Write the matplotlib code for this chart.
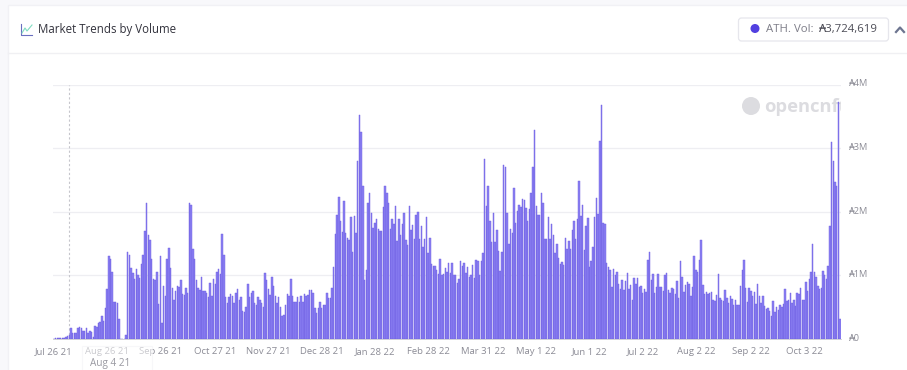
#market volume bar chart with the opencnft card around it
import matplotlib
matplotlib.use("Agg")
import matplotlib.pyplot as plt
from matplotlib.patches import Circle, FancyBboxPatch, Rectangle
from matplotlib.transforms import ScaledTranslation

plt.rcParams["font.family"] = ["Open Sans", "DejaVu Sans"]

#daily volume in thousands of ada
vol_2021_a = [5, 10, 15, 15, 15, 15, 20, 30, 40, 70, 170, 100, 95, 90, 180, 183, 170, 125, 130, 170,
              100, 120, 115, 30, 200, 195, 250, 275, 360, 290, 480, 780, 1300, 1250, 1050, 580, 580, 560, 310, 5,
              5, 5, 70, 1360, 1320, 1115, 1040, 950, 1100, 1000, 960, 1180, 1320, 1700, 2130, 1640, 1560, 1260, 950, 920,
              1060, 550, 1310, 250, 840, 680, 1250, 1430, 1120, 800, 610, 750, 830, 820, 920, 700, 690, 800, 730, 2140,
              2110, 1420, 1250, 930, 800, 770, 970, 760, 750, 720, 660, 880, 680, 950, 870, 1050, 1100, 1020, 1650, 1320]
vol_2021_b = [660, 570, 660, 710, 680, 560, 720, 780, 610, 660, 440, 430, 510, 870, 660, 730, 760, 570, 530, 660,
              620, 560, 500, 1030, 920, 780, 690, 980, 840, 670, 560, 660, 510, 360, 370, 530, 710, 680, 950, 680,
              580, 580, 660, 580, 680, 580, 710, 670, 690, 770, 770, 720, 480, 410, 490]
vol_2022_a = [580, 490, 540, 540, 720, 640, 640, 800, 1130, 1650, 1950, 2230, 1850, 1680, 2170, 1670, 1590, 1560, 1920, 1360,
              1930, 1660, 2800, 3520, 3260, 2410, 920, 1090, 2140, 2300, 1980, 1750, 1830, 1880, 1730, 1700, 1700, 2080, 2410, 2300,
              2130, 1730, 1890, 1800, 2090, 1540, 1890, 1640, 1800, 1980, 1550, 1470, 2090, 1710, 1790, 1570, 1950, 2000, 1570, 1780,
              1440, 1570, 1920, 1350, 1590, 1180, 1150, 1140, 1090, 1020, 1260, 1000, 1020, 1120, 1060, 1200, 1030, 1200, 1000, 1000,
              880, 950, 1220, 1140, 1200, 1040, 1130, 980, 1000, 1170, 960, 1240, 1230, 1000, 1220, 1345, 2830, 2090, 2400, 1860]
vol_2022_b = [1520, 1980, 1520, 1720, 1380, 1070, 1360, 2740, 2700, 1980, 1500, 1730, 1660, 2370, 1820, 2010, 2100, 2070, 2200, 2180,
              2060, 1850, 2050, 2300, 2700, 3280, 2090, 1950, 1950, 2300, 2130, 1570, 1570, 1920, 1570, 1800, 1640, 1350, 1490, 1280,
              1180, 1210, 1170, 1590, 1420, 1540, 1410, 1710, 1850, 1570, 1890, 2490, 1930, 2110, 1400, 1780, 1900, 1130, 1220]
vol_2022_c = [1450, 1910, 2220, 1960, 3115, 3670, 1830, 1800, 1200, 1130, 1080, 820, 1100, 1000, 1060, 860, 780, 920, 770, 910,
              1040, 790, 850, 620, 960, 860, 960, 820, 840, 730, 790, 740, 1240, 1370, 920, 1020, 720, 810, 1020, 820,
              820, 750, 1000, 1030, 770, 720, 800, 790, 710, 910, 640, 1220, 970, 740, 850, 900, 860, 670, 820, 1310,
              1080, 1060, 1240, 1550, 850, 710, 740, 700, 720, 740, 610, 600, 690, 1020, 640, 610, 590, 770, 640, 570,
              680, 630, 540, 620, 530, 540, 840, 1090, 1240, 800, 580, 800, 750, 680, 740, 550, 860, 670, 560, 670,
              520, 470, 490, 440, 360, 600, 430, 510, 450, 540, 510, 550, 790, 600, 620, 720, 570, 620, 520, 730,
              710, 800, 610, 620, 890, 750, 950, 1050, 1500, 1060, 980, 840, 790, 800, 1070, 1000, 940, 1150, 1780, 3100,
              2800, 2460, 2400, 3724, 320]
volume = vol_2021_a + vol_2021_b + vol_2022_a + vol_2022_b + vol_2022_c

date_labels = ["Jul 26 21", "Aug 26 21", "Sep 26 21", "Oct 27 21", "Nov 27 21", "Dec 28 21", "Jan 28 22", "Feb 28 22",
               "Mar 31 22", "May 1 22", "Jun 1 22", "Jul 2 22", "Aug 2 22", "Sep 2 22", "Oct 3 22"]
date_positions = [0, 31, 62, 94, 125, 156, 187, 218, 250, 281, 312, 343, 374, 406, 437]
y_ticks = [0, 1000, 2000, 3000, 4000]
y_labels = ["₳0", "₳1M", "₳2M", "₳3M", "₳4M"]

W, H = 907, 370
fig = plt.figure(figsize=(W / 100, H / 100), dpi=100, facecolor="#f8f8fb")

#overlay in pixel coords for the card, header and button
bg = fig.add_axes([0, 0, 1, 1], zorder=0)
bg.set_xlim(0, W)
bg.set_ylim(H, 0)
bg.axis("off")
bg.add_patch(Rectangle((8, 5), W, H, fc="white", ec="#f1f1f5", lw=1))
bg.plot([8, W], [53, 53], color="#f0f0f3", lw=1)
bg.text(38, 30, "Market Trends by Volume", fontsize=8.3, color="#33333d", va="center", fontweight="medium")
bg.plot([20.5, 20.5, 32], [24, 35, 35], color="#6a6fc0", lw=0.8)
bg.plot([22, 25, 27, 32], [33, 28, 31, 25], color="#7fdcc0", lw=0.8)
bg.add_patch(FancyBboxPatch((738.5, 18), 150, 23, boxstyle="round,pad=0,rounding_size=3", fc="white", ec="#e6e6ec", lw=0.9))
bg.add_patch(Circle((755, 28.5), 4.5, fc="#5240e0", ec="none"))
bg.text(766, 29.5, "ATH. Vol:", fontsize=8.2, color="#7d7d88", va="center")
bg.text(819, 29.5, "₳3,724,619", fontsize=8.2, color="#4c4c56", va="center")
bg.plot([896, 900, 904], [32, 27.5, 32], color="#6d7590", lw=1.6)

#watermark sits behind the bars
bg.add_patch(Circle((751, 106), 9, fc="#dcdce0", ec="none"))
mark = bg.text(764, 106.5, "opencnft", fontsize=13.2, color="#dcdce0", va="center", fontweight="bold")
mark.set_clip_path(Rectangle((700, 90), 141, 30, transform=bg.transData))
mark.set_clip_on(True)

x0, x1, y_top, y_base = 53, 841, 84.5, 339
ax = fig.add_axes([x0 / W, 1 - y_base / H, (x1 - x0) / W, (y_base - y_top) / H], zorder=1)
ax.patch.set_alpha(0)
positions = list(range(len(volume)))
ax.bar(positions, volume, width=0.85, color="#8b80f2", edgecolor="#6a5be0", linewidth=0.3, zorder=3)
ax.set_xlim(-0.5, len(volume) - 0.5)
ax.set_ylim(0, 4000)
ax.yaxis.tick_right()
ax.set_yticks(y_ticks, y_labels, fontsize=6.6, color="#8c8c96")
ax.set_xticks(date_positions, date_labels, fontsize=6.8, color="#8c8c96")
ax.tick_params(length=0, pad=6)
lift = ScaledTranslation(0, 1.5 / 100, fig.dpi_scale_trans)
for lab in ax.get_yticklabels():
    lab.set_transform(lab.get_transform() + lift)
ax.grid(axis="y", color="#eeeef2", lw=0.9, zorder=0)
for side in ax.spines:
    ax.spines[side].set_visible(False)
ax.spines["bottom"].set_visible(True)
ax.spines["bottom"].set_color("#c8c8d0")
ax.spines["bottom"].set_linewidth(0.6)
ax.axvline(9, color="#c6c6cc", lw=0.8, ls=(0, (2, 2)), zorder=2)

#tooltip label goes on top of the tick labels and fades them a bit
top = fig.add_axes([0, 0, 1, 1], zorder=2)
top.set_xlim(0, W)
top.set_ylim(H, 0)
top.axis("off")
top.add_patch(Rectangle((82, 346), 70, 30, fc="white", ec="#f2f2f5", lw=0.8, alpha=0.55))
top.text(90, 363.5, "Aug 4 21", fontsize=7.2, color="#9a9aa2", va="center")

fig.savefig("out.png", dpi=100, facecolor=fig.get_facecolor())
